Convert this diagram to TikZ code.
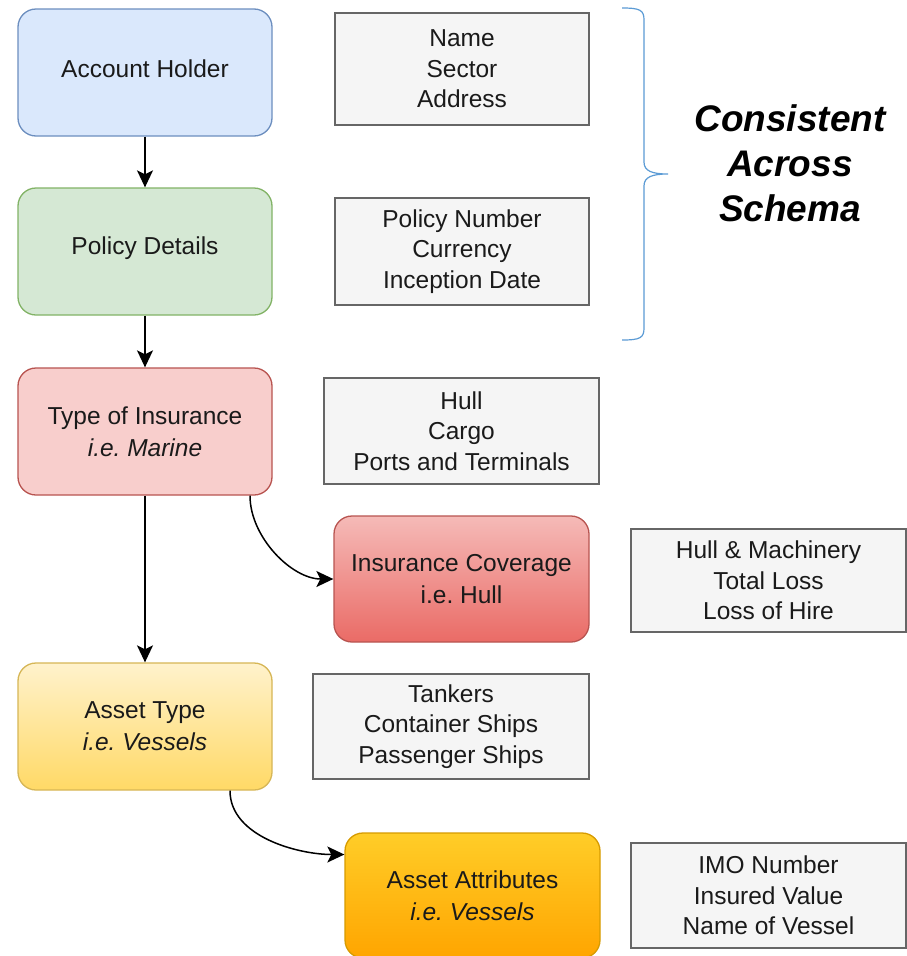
\documentclass[tikz,border=0pt]{standalone}
\usepackage{fontspec}
\setmainfont{Liberation Sans}
\usetikzlibrary{arrows.meta}
\definecolor{blueF}{HTML}{DAE8FC}\definecolor{blueD}{HTML}{6C8EBF}
\definecolor{greenF}{HTML}{D5E8D4}\definecolor{greenD}{HTML}{82B366}
\definecolor{redF}{HTML}{F8CECC}\definecolor{redD}{HTML}{B85450}
\definecolor{redG}{HTML}{EA6B66}
\definecolor{yelF}{HTML}{FFF2CC}\definecolor{yelG}{HTML}{FFD966}\definecolor{yelD}{HTML}{D6B656}
\definecolor{orF}{HTML}{FFCD28}\definecolor{orG}{HTML}{FFA500}\definecolor{orD}{HTML}{D79B00}
\definecolor{greyF}{HTML}{F5F5F5}\definecolor{greyD}{HTML}{666666}
\definecolor{braceC}{HTML}{5B9BD5}
\definecolor{txt}{HTML}{1A1A1A}
\tikzset{
  cbox/.style={rounded corners=18pt, line width=1.3pt, minimum width=254pt, minimum height=127pt, align=center, inner sep=0pt, text=txt, font=\fontsize{24.5}{32}\selectfont},
  gbox/.style={draw=greyD, fill=greyF, line width=1.3pt, align=center, inner sep=0pt, text=txt, font=\fontsize{24.5}{30.5}\selectfont},
  arr/.style={line width=1.5pt, -{Stealth[length=17pt,width=16pt,inset=4pt]}},
}
\begin{document}
\begin{tikzpicture}[x=1pt,y=-1pt]
\useasboundingbox (0,0) rectangle (907,956);
\fill[white] (0,0) rectangle (907,956);
% main column
\node[cbox, draw=blueD, fill=blueF] (ah) at (145,72.5) {};
\node[text=txt, font=\fontsize{24.5}{32}\selectfont] (aht) at (145,69) {Account Holder};
\node[cbox, draw=greenD, fill=greenF] (pd) at (145,251.5) {};
\node[text=txt, font=\fontsize{24.5}{32}\selectfont] (pdt) at (145,248) {Policy Details};
\node[cbox, draw=redD, fill=redF] (ti) at (145,431.5) {Type of Insurance\\\textit{i.e.\ Marine}};
\node[cbox, draw=redD, top color=redF!80!redG, bottom color=redG, minimum width=255pt, minimum height=126pt] (ic) at (461.5,579) {Insurance Coverage\\i.e.\ Hull};
\node[cbox, draw=yelD, top color=yelF, bottom color=yelG] (at) at (145,726.5) {Asset Type\\\textit{i.e.\ Vessels}};
\node[cbox, draw=orD, top color=orF, bottom color=orG, minimum width=255pt, minimum height=125pt] (aa) at (472.5,895.5) {Asset Attributes\\\textit{i.e.\ Vessels}};
% grey boxes
\node[gbox, minimum width=254pt, minimum height=112pt] (g1) at (462,69) {Name\\Sector\\Address};
\node[gbox, minimum width=254pt, minimum height=107pt] (g2) at (462,251.5) {Policy Number\\Currency\\Inception Date};
\node[gbox, minimum width=275pt, minimum height=106pt] (g3) at (461.5,431) {Hull\\Cargo\\Ports and Terminals};
\node[gbox, minimum width=275pt, minimum height=103pt] (g4) at (768.5,580.5) {Hull \& Machinery\\Total Loss\\Loss of Hire};
\node[gbox, minimum width=276pt, minimum height=105pt] (g5) at (451,726.5) {Tankers\\Container Ships\\Passenger Ships};
\node[gbox, minimum width=275pt, minimum height=105pt] (g6) at (768.5,895.5) {IMO Number\\Insured Value\\Name of Vessel};
% connectors
\draw[arr] (ah) -- (pd);
\draw[arr] (pd) -- (ti);
\draw[arr] (ti) -- (at);
\draw[arr] ([xshift=105pt]ti.south) to[out=-90,in=180,looseness=0.9] (ic.west);
\draw[arr] ([xshift=85pt]at.south) to[out=-90,in=180,looseness=0.9] ([yshift=41pt]aa.west);
% brace
\draw[braceC, line width=1.2pt] (622,8) .. controls (640,8) and (644,10) .. (644,20) -- (644,162) .. controls (644,171) and (652,174) .. (668,174) .. controls (652,174) and (644,177) .. (644,186) -- (644,328) .. controls (644,338) and (640,340) .. (622,340);
\node[align=center, font=\fontsize{37}{45}\selectfont\bfseries\itshape, text=black] (cs) at (790,163) {Consistent\\Across\\Schema};
\end{tikzpicture}
\end{document}
